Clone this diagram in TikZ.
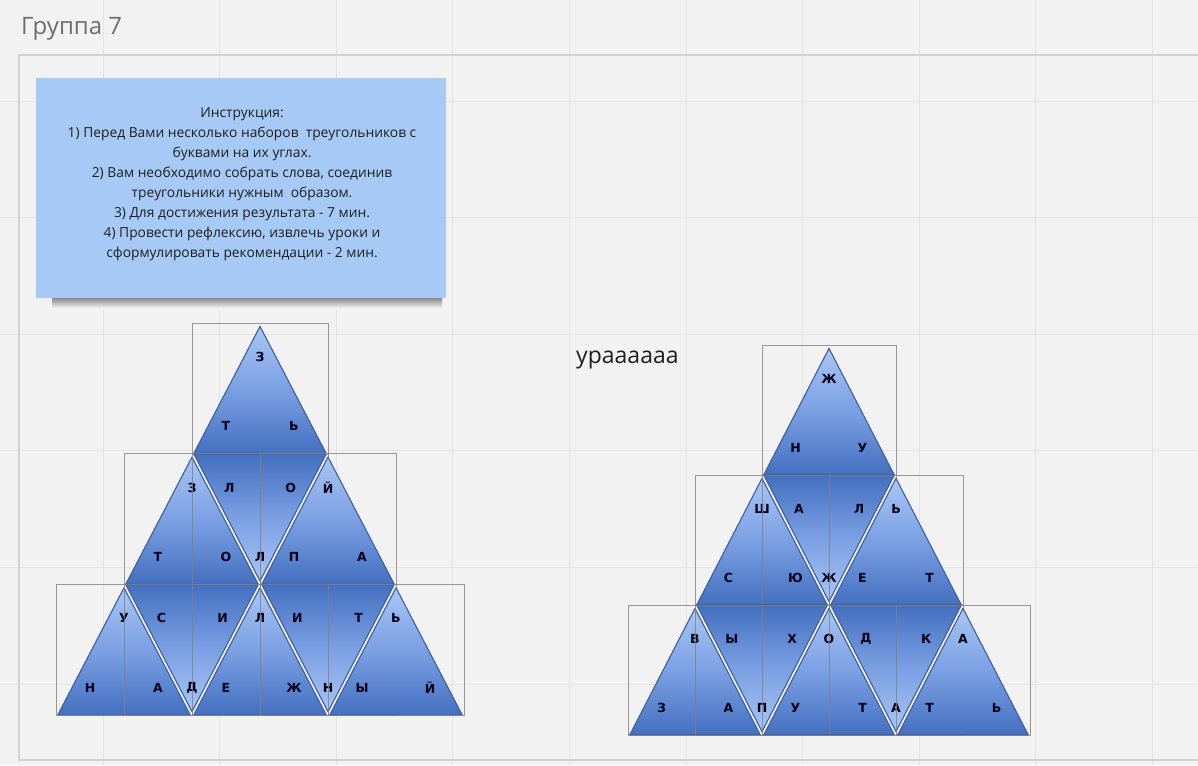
\documentclass[tikz,border=0pt]{standalone}
\usepackage{fontspec}
\setmainfont{Open Sans}
\newfontfamily\ltrfont{DejaVu Sans}
\usetikzlibrary{calc}
\definecolor{bgcol}{HTML}{F2F2F2}
\definecolor{gridcol}{HTML}{E4E4E4}
\definecolor{titlecol}{HTML}{6E6E6E}
\definecolor{notecol}{HTML}{A6CAF5}
\definecolor{trilight}{HTML}{A9C5F3}
\definecolor{trimid}{HTML}{7A9FE3}
\definecolor{tridark}{HTML}{4470C0}
\definecolor{triline}{HTML}{3D5F9C}

\tikzset{
  gridline/.style={draw=gridcol, line width=0.8pt},
  panel/.style={draw=black!18, line width=1.6pt},
  tri/.style={draw=triline, line width=1.1pt, line join=round},
  triup/.style={tri, top color=trilight, bottom color=tridark, middle color=trimid},
  tridown/.style={tri, top color=tridark, bottom color=trilight, middle color=trimid},
  frame/.style={draw=black!50, line width=0.5pt, opacity=0.8},
  ltr/.style={font=\ltrfont\bfseries\fontsize{12.5}{13}\selectfont, text=black!90!blue, inner sep=0pt},
}

% размеры треугольника и зазор между соседями
\newcommand{\triW}{68}
\newcommand{\triH}{130.7}
\newcommand{\triG}{1.7}
% треугольник вершиной вверх: имя, x, y вершины, буквы
\newcommand{\trup}[6]{%
  \draw[triup] (#2,#3+2*\triG) -- (#2+\triW-\triG,#3+\triH) -- (#2-\triW+\triG,#3+\triH) -- cycle;
  \draw[frame] (#2-\triW,#3) rectangle (#2+\triW,#3+\triH);
  \node[ltr] (#1a) at (#2,#3+0.26*\triH) {#4};
  \node[ltr] (#1b) at (#2-0.5*\triW,#3+0.79*\triH) {#5};
  \node[ltr] (#1c) at (#2+0.5*\triW,#3+0.79*\triH) {#6};
}
% треугольник вершиной вниз
\newcommand{\trdown}[6]{%
  \draw[tridown] (#2-\triW+\triG,#3) -- (#2+\triW-\triG,#3) -- (#2,#3+\triH-2*\triG) -- cycle;
  \draw[frame] (#2-\triW,#3) rectangle (#2+\triW,#3+\triH);
  \node[ltr] (#1a) at (#2-0.45*\triW,#3+0.26*\triH) {#4};
  \node[ltr] (#1b) at (#2+0.45*\triW,#3+0.26*\triH) {#5};
  \node[ltr] (#1c) at (#2,#3+0.79*\triH) {#6};
}

\begin{document}
\begin{tikzpicture}[x=1pt,y=-1pt]
  \useasboundingbox (0,0) rectangle (1198,765);
  % фон и сетка
  \fill[bgcol] (0,0) rectangle (1198,765);
  \foreach \k in {0,...,9} \draw[gridline] ({103+116.6*\k},0) -- ({103+116.6*\k},765);
  \foreach \k in {0,...,5} \draw[gridline] (0,{101+116.6*\k}) -- (1198,{101+116.6*\k});
  % рамка группы
  \draw[panel] (19,55) rectangle (1215,760);
  \node[anchor=base west, inner sep=0pt, text=titlecol,
        font=\fontsize{24}{28}\selectfont] (title) at (21,35) {Группа 7};
  % стикер с инструкцией
  \shade[top color=black!50, bottom color=bgcol] (52,297) rectangle (442,308);
  \fill[notecol] (36,78) rectangle (446,298);
  \node[align=center, text=black!88, font=\fontsize{13.8}{20}\selectfont] (instr) at (242,184)
    {Инструкция:\\
     1) Перед Вами несколько наборов\ \ треугольников с\\
     буквами на их углах.\\
     2) Вам необходимо собрать слова, соединив\\
     треугольники нужным\ \ образом.\\
     3) Для достижения результата - 7 мин.\\
     4) Провести рефлексию, извлечь уроки и\\
     сформулировать рекомендации - 2 мин.};
  \node[anchor=base west, inner sep=0pt, text=black!88,
        font=\fontsize{23}{25}\selectfont] (ura) at (576,363) {ураааааа};
  % левая пирамида
  \trup{La}{260}{323}{З}{Т}{Ь}
  \trup{Lb}{192}{453.7}{З}{Т}{О}
  \trdown{Lc}{260}{453.7}{Л}{О}{Л}
  \trup{Ld}{328}{453.7}{Й}{П}{А}
  \trup{Le}{124}{584.4}{У}{Н}{А}
  \trdown{Lf}{192}{584.4}{С}{И}{Д}
  \trup{Lg}{260}{584.4}{Л}{Е}{Ж}
  \trdown{Lh}{328}{584.4}{И}{Т}{Н}
  \trup{Li}{396}{584.4}{Ь}{Ы}{Й}
  % правая пирамида
  \renewcommand{\triW}{67}
  \renewcommand{\triH}{130}
  \trup{Ra}{829}{345}{Ж}{Н}{У}
  \trup{Rb}{762}{475}{Ш}{С}{Ю}
  \trdown{Rc}{829}{475}{А}{Л}{Ж}
  \trup{Rd}{896}{475}{Ь}{Е}{Т}
  \trup{Re}{695}{605}{В}{З}{А}
  \trdown{Rf}{762}{605}{Ы}{Х}{П}
  \trup{Rg}{829}{605}{О}{У}{Т}
  \trdown{Rh}{896}{605}{Д}{К}{А}
  \trup{Ri}{963}{605}{А}{Т}{Ь}
\end{tikzpicture}
\end{document}
